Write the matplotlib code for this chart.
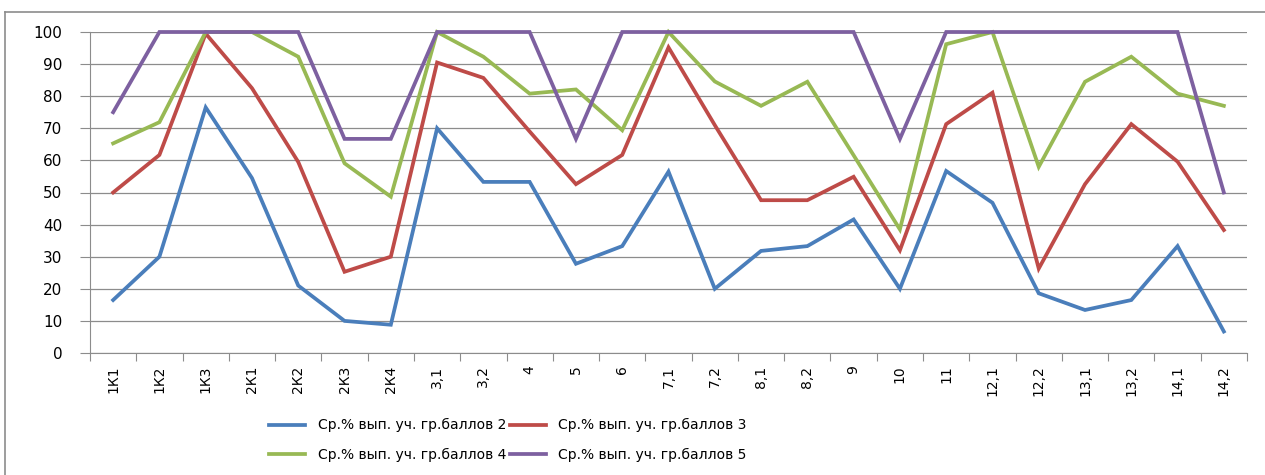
import numpy as np
import matplotlib
matplotlib.use("Agg")
import matplotlib.pyplot as plt
from matplotlib.lines import Line2D

categories = ["1К1", "1К2", "1К3", "2К1", "2К2", "2К3", "2К4", "3,1", "3,2", "4",
              "5", "6", "7,1", "7,2", "8,1", "8,2", "9", "10", "11", "12,1",
              "12,2", "13,1", "13,2", "14,1", "14,2"]

score2 = [16.5, 30, 76.5, 54.5, 21, 10, 8.8, 70, 53.3, 53.3,
          27.8, 33.3, 56.5, 20, 31.8, 33.3, 41.6, 20, 56.7, 46.8,
          18.6, 13.4, 16.5, 33.3, 6.7]
score3 = [50, 61.7, 99.5, 82.5, 59.5, 25.3, 30, 90.5, 85.7, 69,
          52.6, 61.7, 95.2, 71, 47.6, 47.6, 54.9, 32, 71.3, 81.1,
          26.3, 52.6, 71.3, 59.6, 38.3]
score4 = [65.3, 71.9, 100, 100, 92.3, 59.1, 48.7, 100, 92.3, 80.8,
          82.1, 69.4, 100, 84.6, 77, 84.5, 61.6, 38.5, 96.2, 100,
          58, 84.5, 92.3, 80.8, 77]
score5 = [75, 100, 100, 100, 100, 66.7, 66.7, 100, 100, 100,
          66.7, 100, 100, 100, 100, 100, 100, 66.7, 100, 100,
          100, 100, 100, 100, 50]

labels = ["Ср.% вып. уч. гр.баллов 2", "Ср.% вып. уч. гр.баллов 3",
          "Ср.% вып. уч. гр.баллов 4", "Ср.% вып. уч. гр.баллов 5"]
colors = ["#4A7EBB", "#BE4B48", "#98B954", "#7D60A0"]

W, H = 1265, 475
fig = plt.figure(figsize=(W / 100, H / 100), dpi=100)
ax = fig.add_axes([90 / W, 1 - 353 / H, (1247 - 90) / W, (353 - 32) / H])

x = np.arange(len(categories))
lines = []
for vals, c in zip([score2, score3, score4, score5], colors):
    ln, = ax.plot(x, vals, color=c, lw=2.7, solid_joinstyle="miter",
                  clip_on=False, zorder=3)
    lines.append(ln)

grid_c = "#8C8C8C"
ax.set_xlim(-0.5, len(categories) - 0.5)
ax.set_ylim(0, 100)
ax.set_yticks(np.arange(0, 101, 10))
ax.yaxis.grid(True, color=grid_c, lw=0.9)
ax.set_axisbelow(True)
for s in ["top", "right"]:
    ax.spines[s].set_visible(False)
ax.spines["left"].set_color(grid_c)
ax.spines["bottom"].set_color(grid_c)
ax.tick_params(axis="y", length=7, color=grid_c, labelsize=11, pad=13)

# category ticks at boundaries, labels at centres
ax.set_xticks(np.arange(len(categories) + 1) - 0.5)
ax.set_xticklabels([])
ax.tick_params(axis="x", which="major", length=6, color=grid_c)
ax.set_xticks(x, minor=True)
ax.set_xticklabels(categories, minor=True, rotation=90, fontsize=10)
ax.tick_params(axis="x", which="minor", length=0, pad=9)

# outer chart border
fig.add_artist(Line2D([5 / W, 5 / W], [0, 1 - 12 / H], color="#8C8C8C", lw=1.2))
fig.add_artist(Line2D([5 / W, 1], [1 - 12 / H, 1 - 12 / H], color="#8C8C8C", lw=1.2))

# legend fills column-wise, so order entries to read row-wise 2,3 / 4,5
order = [0, 2, 1, 3]
handles = [Line2D([], [], color=colors[i], lw=2.7) for i in order]
fig.legend(handles, [labels[i] for i in order], loc="center",
           bbox_to_anchor=(508 / W, 1 - 440 / H),
           ncol=2, frameon=False, fontsize=10, handlelength=2.6,
           columnspacing=0.25, handletextpad=0.9, labelspacing=1.1)

fig.savefig("out.png", dpi=100)
